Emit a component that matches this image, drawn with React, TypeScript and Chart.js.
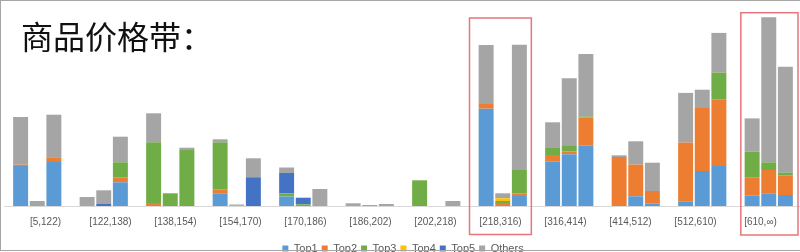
import React, { useEffect, useRef } from 'react';
import { Chart, registerables } from 'chart.js';

Chart.register(...registerables);

// ---- data ----
const categories = [
  '[5,122)', '[122,138)', '[138,154)', '[154,170)', '[170,186)', '[186,202)',
  '[202,218)', '[218,316)', '[316,414)', '[414,512)', '[512,610)', '[610,∞)',
];
const seriesNames = ['Top1', 'Top2', 'Top3', 'Top4', 'Top5', 'Others'];
const barGroups = ['A', 'B', 'C'];

// three bars per category (A, B, C)
const top1 = [
  40, 0, 44,
  0, 0, 23.7,
  0, 0, 0,
  12.7, 0, 0,
  9.5, 0, 0,
  0, 0, 0,
  0, 0, 0,
  97.3, 0, 10,
  44.3, 51.7, 60.3,
  0, 9.7, 2.3,
  4.7, 35, 40,
  10.3, 12.7, 11,
];
const top2 = [
  1.5, 0, 4.7,
  0, 0, 5,
  3, 0, 0,
  4, 0.5, 0,
  0, 0, 0,
  0, 0, 0,
  0, 0, 0,
  4.7, 3, 2.7,
  6.7, 2.7, 28.3,
  49, 31.7, 12.7,
  58.7, 63, 66.7,
  18, 23.3, 19.3,
];
const top3 = [
  0, 0, 0,
  0, 0, 15,
  60.7, 12.7, 56,
  47, 0, 0,
  3, 1.7, 0,
  0, 0, 0,
  25.7, 0, 0,
  0, 2, 23.3,
  7.7, 5.7, 1,
  0, 0, 0,
  0, 0, 26.7,
  26, 7.7, 3,
];
const top4 = [
  0, 0, 0,
  0, 0, 0,
  0, 0, 0,
  0, 0, 0,
  0, 0, 0,
  0, 0, 0,
  0, 0, 0,
  0, 2.7, 0,
  0, 0, 0,
  0, 0, 0,
  0, 0, 0,
  0, 0, 0,
];
const top5 = [
  0, 0, 0,
  0, 2, 0,
  0, 0, 0,
  0, 0, 28.7,
  20.5, 6.6, 0,
  0, 0, 0,
  0, 0, 0,
  0, 0, 0,
  0, 0, 0,
  0, 0, 0,
  0, 0, 0,
  0, 0, 0,
];
const others = [
  47.5, 5, 42.6,
  9, 13.7, 25.6,
  29, 0, 2.3,
  3, 1, 19,
  5.5, 0, 17,
  2.7, 1, 2,
  0, 0, 5,
  59, 5, 125.3,
  25, 67.7, 62.4,
  1.7, 23.3, 28.3,
  49.7, 18.3, 39.7,
  33.3, 145, 106,
];
const seriesValues = [top1, top2, top3, top4, top5, others];
const seriesColors = ['#5B9BD5', '#ED7D31', '#70AD47', '#FFC000', '#4472C4', '#A5A5A5'];
const highlighted = [7, 11];

const highlightPlugin = {
  id: 'highlightBoxes',
  afterDraw(chart: any, _args: any, opts: any) {
    const { ctx } = chart;
    const x = chart.scales.x;
    const y = chart.scales.y;
    const w = x.width / categories.length;
    ctx.save();
    ctx.strokeStyle = opts.color;
    ctx.lineWidth = opts.lineWidth;
    opts.boxes.forEach((b: any) => {
      const c = x.getPixelForValue(b.index);
      const left = c + b.from * w;
      const right = c + b.to * w;
      const top = y.getPixelForValue(b.top);
      const bottom = y.getPixelForValue(b.bottom);
      ctx.strokeRect(left, top, right - left, bottom - top);
    });
    ctx.restore();
  },
};

export default function App() {
  const canvasRef = useRef<HTMLCanvasElement | null>(null);

  useEffect(() => {
    if (!canvasRef.current) return;
    const datasets: any[] = [];
    seriesNames.forEach((name, s) => {
      barGroups.forEach((g, gi) => {
        datasets.push({
          label: name,
          stack: g,
          data: categories.map((_, i) => seriesValues[s][i * 3 + gi]),
          backgroundColor: seriesColors[s],
          borderWidth: 0,
          categoryPercentage: 0.75,
          barPercentage: 0.9,
        });
      });
    });

    const chart = new Chart(canvasRef.current, {
      type: 'bar',
      data: { labels: categories, datasets },
      plugins: [highlightPlugin],
      options: {
        animation: false,
        responsive: false,
        devicePixelRatio: 1,
        layout: { padding: { left: 4, right: 4, top: 10, bottom: 0 } },
        scales: {
          x: { stacked: true, display: false },
          x2: {
            type: 'linear',
            position: 'bottom',
            offset: false,
            bounds: 'data',
            min: -0.6385,
            max: 11.6385,
            grid: { display: false, drawTicks: false, offset: false },
            border: { display: true, color: '#d9d9d9' },
            afterBuildTicks: (scale: any) => {
              scale.ticks = categories.map((_, i) => ({ value: i }));
            },
            ticks: {
              autoSkip: false,
              maxRotation: 0,
              padding: 10,
              color: '#595959',
              font: { family: 'Liberation Sans', size: 10 },
              callback: (_v: any, i: number) => categories[i],
            },
            afterFit: (scale: any) => { scale.height += 1; },
          },
          y: { stacked: true, display: false, min: 0, max: 196 },
        },
        plugins: {
          legend: {
            position: 'bottom',
            labels: {
              boxWidth: 6,
              boxHeight: 6,
              padding: 4,
              color: '#595959',
              font: { family: 'Liberation Sans', size: 11 },
              filter: (item: any, data: any) => data.datasets[item.datasetIndex].stack === 'A',
            },
          },
          tooltip: { enabled: false },
          highlightBoxes: {
            color: '#e7767c',
            lineWidth: 1.5,
            boxes: [
              { index: highlighted[0], from: -0.5, to: 0.43, top: 188, bottom: -28.5 },
              { index: highlighted[1], from: -0.42, to: 0.44, top: 193.3, bottom: -29 },
            ],
          },
        } as any,
      },
    });
    return () => chart.destroy();
  }, []);

  return (
    <div style={{ position: 'fixed', left: 0, top: 0, width: 800, height: 252, overflow: 'hidden', background: '#fff' }}>
      <div style={{ position: 'absolute', left: 0, top: 0, width: 806, height: 264 }}>
        <canvas ref={canvasRef} width={806} height={264} style={{ width: 806, height: 264, display: 'block' }} />
      </div>
      <div
        style={{
          position: 'absolute', left: 21, top: 19, fontSize: 32, lineHeight: '32px',
          fontFamily: '"Noto Sans CJK SC", sans-serif', color: '#111', whiteSpace: 'nowrap',
        }}
      >
        商品价格带：
      </div>
      <div
        style={{
          position: 'absolute', left: 0, top: 0, width: 800, height: 251, boxSizing: 'border-box',
          borderLeft: '1px solid #a6a6a6', borderTop: '1px solid #a6a6a6', borderBottom: '1px solid #a6a6a6',
          pointerEvents: 'none',
        }}
      />
    </div>
  );
}
